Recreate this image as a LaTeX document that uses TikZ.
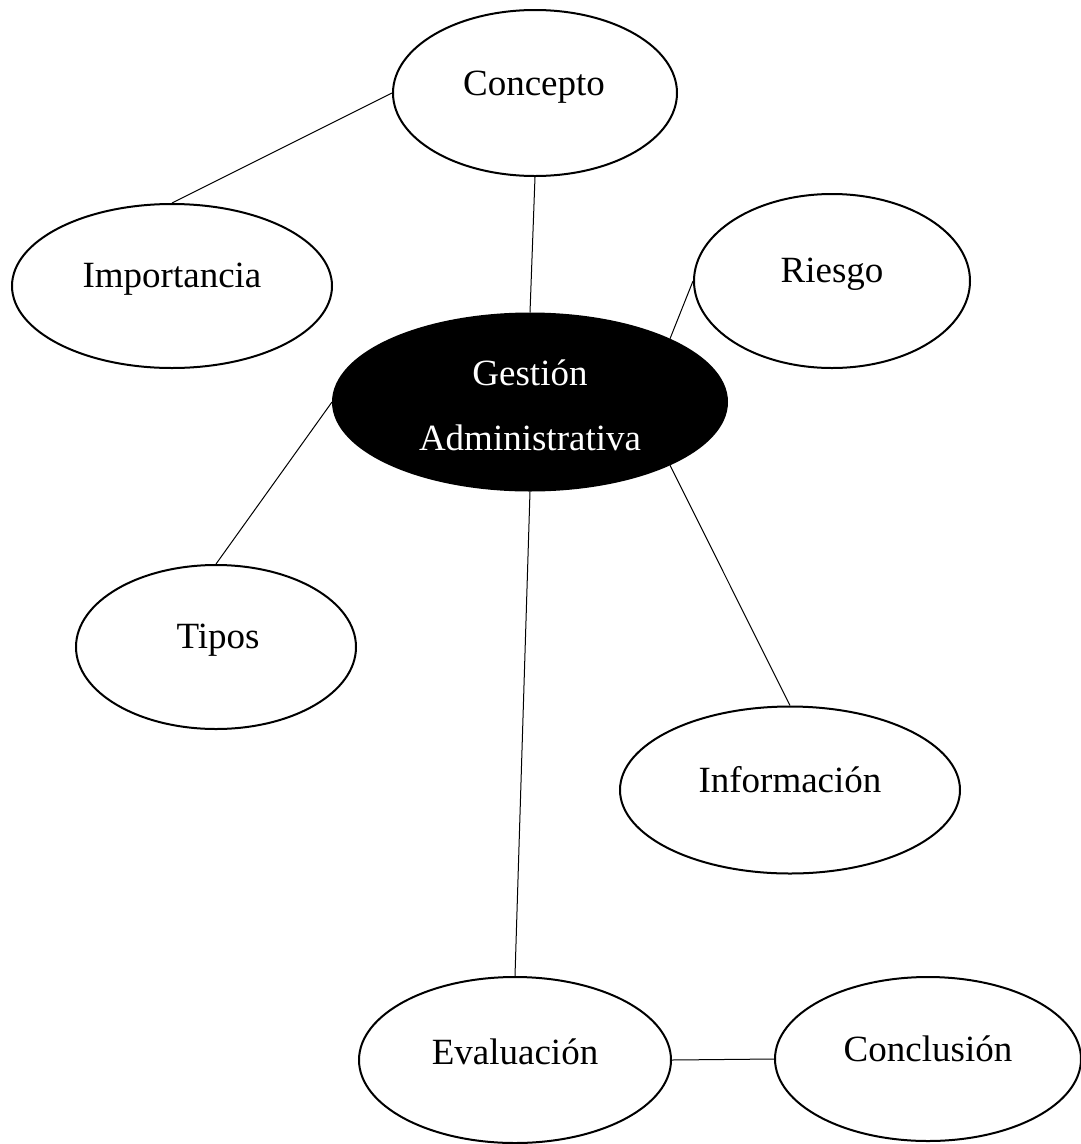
\documentclass[tikz,border=0pt]{standalone}
\usepackage{fontspec}
\setmainfont{Liberation Serif}
\usetikzlibrary{shapes.geometric}
\begin{document}
\begin{tikzpicture}[x=1pt,y=-1pt,
  bubble/.style={ellipse,draw=black,line width=2pt,fill=white,inner sep=0pt},
  hub/.style={bubble,fill=black},
  caption/.style={anchor=base,inner sep=0pt,font=\fontsize{37}{65}\selectfont,align=center},
  link/.style={draw=black,line width=1pt}]
\useasboundingbox[fill=white] (0,0) rectangle (1081,1144);

% ellipses
\node[bubble,minimum width=284pt,minimum height=166pt] (concepto) at (535,93) {};
\node[bubble,minimum width=320pt,minimum height=164pt] (importancia) at (172,286) {};
\node[bubble,minimum width=276pt,minimum height=174pt] (riesgo) at (832,281) {};
\node[hub,minimum width=394pt,minimum height=177pt] (gestion) at (530,402) {};
\node[bubble,minimum width=280pt,minimum height=164pt] (tipos) at (216,647) {};
\node[bubble,minimum width=340pt,minimum height=167pt] (informacion) at (790,790) {};
\node[bubble,minimum width=312pt,minimum height=166pt] (evaluacion) at (515,1060) {};
\node[bubble,minimum width=306pt,minimum height=164pt] (conclusion) at (928,1059) {};

% labels
\node[caption] (t-concepto) at (534,95) {Concepto};
\node[caption] (t-importancia) at (172,287) {Importancia};
\node[caption] (t-riesgo) at (832,282) {Riesgo};
\node[caption,text=white] (t-gestion) at (530,385) {Gestión};
\node[caption,text=white] (t-admin) at (530,450) {Administrativa};
\node[caption] (t-tipos) at (218,648) {Tipos};
\node[caption] (t-informacion) at (790,792) {Información};
\node[caption] (t-evaluacion) at (515,1064) {Evaluación};
\node[caption] (t-conclusion) at (928,1061) {Conclusión};

% connectors
\draw[link] (concepto.west) -- (importancia.north);
\draw[link] (concepto.south) -- (gestion.north);
\draw[link] (riesgo.west) -- (gestion.north east);
\draw[link] (gestion.west) -- (tipos.north);
\draw[link] (gestion.south) -- (evaluacion.north);
\draw[link] (gestion.south east) -- (informacion.north);
\draw[link] (evaluacion.east) -- (conclusion.west);
\end{tikzpicture}
\end{document}
